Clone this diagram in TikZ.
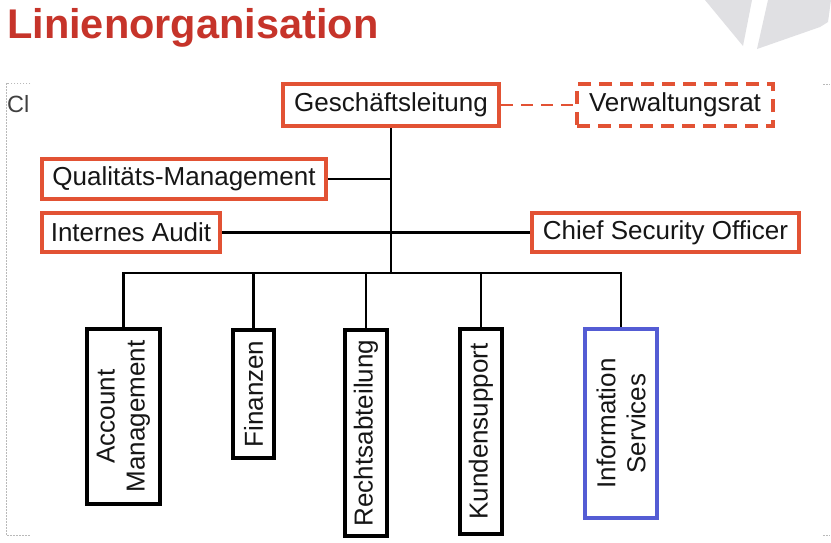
\documentclass[tikz,border=0pt]{standalone}
\usepackage{fontspec}
\setmainfont{Liberation Sans}
\definecolor{titlered}{RGB}{198,52,42}
\definecolor{boxred}{RGB}{226,82,52}
\definecolor{boxblue}{RGB}{84,92,212}
\definecolor{txt}{RGB}{22,22,22}
\definecolor{deco}{RGB}{224,224,227}
\begin{document}
\begin{tikzpicture}[x=1pt,y=-1pt,
  redbox/.style={draw=boxred, line width=4pt, inner sep=0pt, text=txt, font=\fontsize{26}{30}\selectfont},
  blackbox/.style={draw=black, line width=4.5pt, inner sep=0pt},
  bluebox/.style={draw=boxblue, line width=3.5pt, inner sep=0pt},
  vtext/.style={rotate=90, align=center, text=txt, inner sep=0pt, font=\fontsize{26}{30}\selectfont},
  conn/.style={draw=black, line width=2.5pt},
  dashconn/.style={draw=boxred, line width=2.5pt, dash pattern=on 12pt off 8pt},
  placeholder/.style={draw=gray!55, line width=1pt, dash pattern=on 1.5pt off 1.5pt}
]
\useasboundingbox (0,0) rectangle (831,542);
\fill[white] (0,0) rectangle (831,542);
% decoration top right
\fill[deco] (705,0) -- (752,0) -- (743,46) -- cycle;
\fill[deco] (768,0) -- (831,0) -- (828,22) -- (820,27) -- (757,49) -- cycle;
% title
\node[anchor=base west, inner sep=0pt, text=titlered, font=\fontsize{41.5}{46}\selectfont\bfseries] (title) at (7,38.5) {Linienorganisation};
% placeholder frame
\draw[placeholder] (30,83) -- (6,83) -- (6,535) -- (30,535);
\draw[placeholder] (823,84) -- (830,84);
\draw[placeholder] (823,535) -- (830,535);
\node[anchor=base west, inner sep=0pt, text=black!75, font=\fontsize{23.5}{26}\selectfont] (cl) at (7,112) {Cl};
% top nodes
\node[redbox, minimum width=216pt, minimum height=42pt] (GL) at (391,105) {Geschäftsleitung};
\node[redbox, dash pattern=on 13pt off 8pt, minimum width=196pt, minimum height=42pt] (VR) at (675,105) {Verwaltungsrat};
\node[redbox, minimum width=284pt, minimum height=40pt] (QM) at (184,179) {Qualitäts-Management};
\node[redbox, minimum width=178pt, minimum height=39pt] (IA) at (131,232.5) {Internes Audit};
\node[redbox, minimum width=267pt, minimum height=39pt] (CSO) at (665.5,232.5) {Chief Security Officer};
% bottom boxes
\node[blackbox, minimum width=73pt, minimum height=175pt] (AM) at (123.5,416.5) {};
\node[blackbox, minimum width=41pt, minimum height=128pt] (FI) at (253.5,394) {};
\node[blackbox, minimum width=42pt, minimum height=206pt] (RA) at (366,433) {};
\node[blackbox, minimum width=42pt, minimum height=205pt] (KS) at (481,431.5) {};
\node[bluebox, minimum width=72pt, minimum height=189pt] (IS) at (621,423.5) {};
\node[vtext] (AMt) at (AM.center) {Account\\Management};
\node[vtext] (FIt) at (FI.center) {Finanzen};
\node[vtext] (RAt) at (RA.center) {Rechtsabteilung};
\node[vtext] (KSt) at (KS.center) {Kundensupport};
\node[vtext] (ISt) at (IS.center) {Information\\Services};
% connectors
\coordinate (hub) at (GL.south |- 0,273);
\draw[dashconn] (GL.east) -- (VR.west);
\draw[conn] (GL.south) -- (hub);
\draw[conn] (QM.east) -- (QM.east -| GL.south);
\draw[conn] (IA.east) -- (CSO.west);
\draw[conn] (AM.north) -- (AM.north |- hub) -- (IS.north |- hub) -- (IS.north);
\draw[conn] (FI.north) -- (FI.north |- hub);
\draw[conn] (RA.north) -- (RA.north |- hub);
\draw[conn] (KS.north) -- (KS.north |- hub);
\end{tikzpicture}
\end{document}
